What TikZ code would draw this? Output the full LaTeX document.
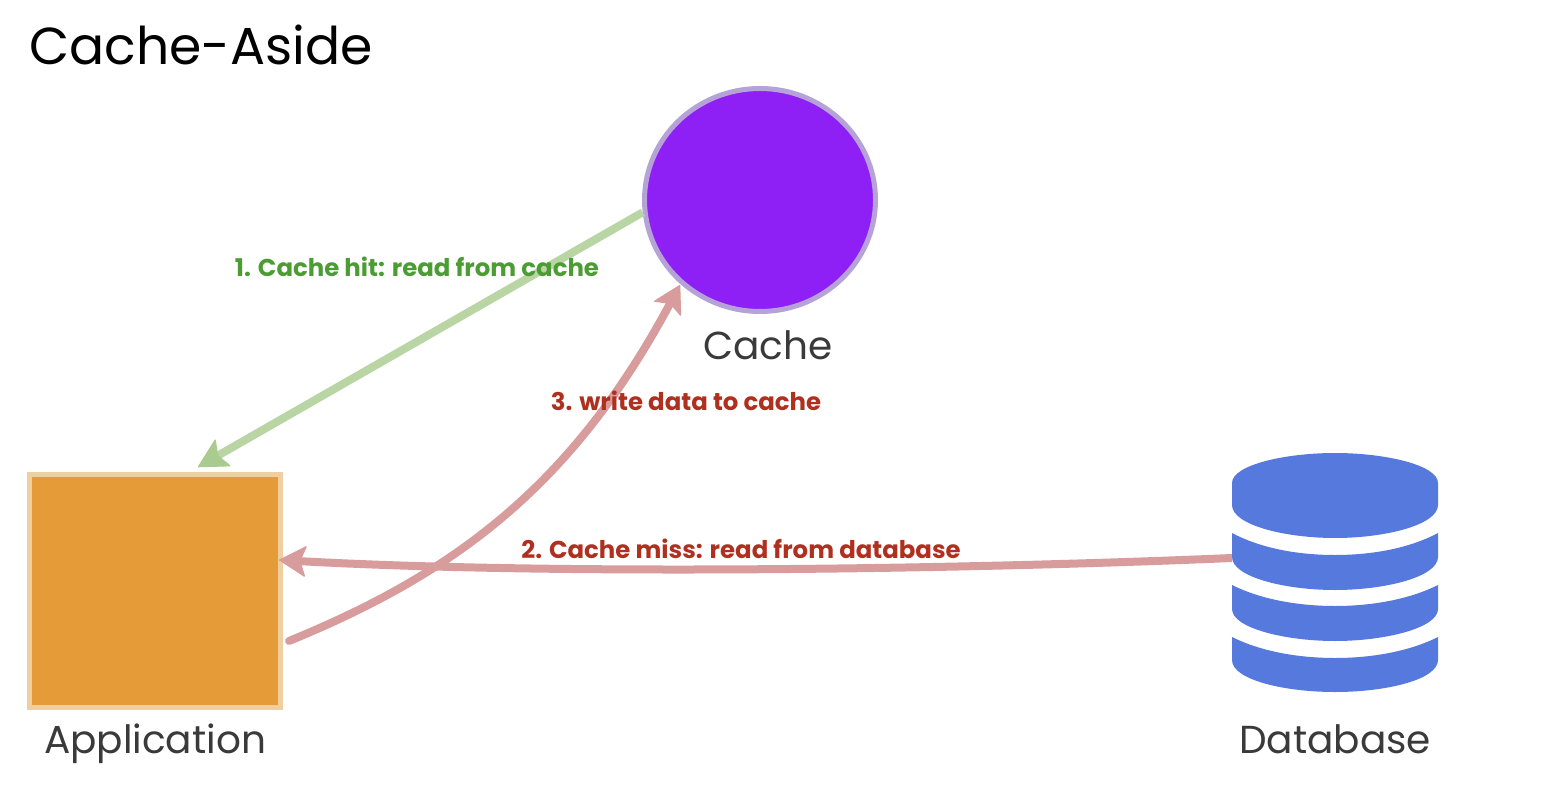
\documentclass[tikz,border=0pt]{standalone}
\usepackage{fontspec}
\setmainfont{Poppins}
\usetikzlibrary{arrows.meta,shapes.geometric}
\definecolor{appfill}{HTML}{E59C38}
\definecolor{appline}{HTML}{EFCF9F}
\definecolor{cachefill}{HTML}{8E20F5}
\definecolor{cacheline}{HTML}{B5A3D8}
\definecolor{dbfill}{HTML}{5579DC}
\definecolor{greenline}{HTML}{B9D5A4}
\definecolor{greenhead}{HTML}{A9CB90}
\definecolor{redline}{HTML}{D89C9C}
\definecolor{greentext}{HTML}{4C9C34}
\definecolor{redtext}{HTML}{B03020}
\definecolor{labeltext}{HTML}{3A3A3A}
\tikzset{
  greenarrow/.style={draw=greenline,line width=4pt,-{Stealth[round,length=15pt,width=16pt,inset=3pt,color=greenhead,fill=greenhead,line width=0.6pt]}},
  redarrow/.style={draw=redline,line width=4pt,line cap=round,-{Stealth[round,length=14pt,width=16pt,inset=3pt,color=redline,fill=redline,line width=0.6pt]}},
  namelabel/.style={text=labeltext,font=\fontsize{19.5}{24}\selectfont,inner sep=0pt,anchor=base},
  edgelabel/.style={font=\fontsize{12.2}{14}\selectfont\bfseries,inner sep=0pt,anchor=base},
  dbband/.style={fill=dbfill,draw=none}
}
\begin{document}
\begin{tikzpicture}[x=0.5pt,y=-0.5pt]
\useasboundingbox (0,0) rectangle (1561,807);
\fill[white] (0,0) rectangle (1561,807);
\node[inner sep=0pt,anchor=base,font=\fontsize{26}{32}\selectfont,text=black] (title) at (201,65) {Cache-Aside};
% shapes
\node[draw=appline,fill=appfill,line width=2.5pt,rectangle,inner sep=0pt,minimum width=125.5pt,minimum height=116.5pt] (app) at (155,591) {};
\node[draw=cacheline,fill=cachefill,line width=2.5pt,ellipse,inner sep=0pt,minimum width=115.5pt,minimum height=111.5pt] (cache) at (760,200) {};
% database
\fill[dbband] (1232,483) .. controls (1232,465) and (1285,453) .. (1335,453) .. controls (1385,453) and (1438,465) .. (1438,483) -- (1438,505) .. controls (1438,525) and (1385,538) .. (1335,538) .. controls (1285,538) and (1232,525) .. (1232,505) -- cycle;
\fill[dbband] (1232,533) .. controls (1262,549) and (1300,555) .. (1335,555) .. controls (1370,555) and (1408,549) .. (1438,533) -- (1438,557) .. controls (1438,577) and (1385,590) .. (1335,590) .. controls (1285,590) and (1232,577) .. (1232,557) -- cycle;
\fill[dbband] (1232,585) .. controls (1262,600) and (1300,606) .. (1335,606) .. controls (1370,606) and (1408,600) .. (1438,585) -- (1438,609) .. controls (1438,628) and (1385,641) .. (1335,641) .. controls (1285,641) and (1232,628) .. (1232,609) -- cycle;
\fill[dbband] (1232,637) .. controls (1262,652) and (1300,658) .. (1335,658) .. controls (1370,658) and (1408,652) .. (1438,637) -- (1438,660) .. controls (1438,680) and (1385,692) .. (1335,692) .. controls (1285,692) and (1232,680) .. (1232,660) -- cycle;
\coordinate (dbport) at (1232,558);
\coordinate (appTop) at (198,467);
\coordinate (appRight) at (279,560);
\coordinate (appOut) at (289,641);
\coordinate (cacheIn) at (680,285);
% connectors
\draw[greenarrow] (cache.186) -- (appTop);
\draw[redarrow,line cap=butt] (dbport) .. controls (950,570) and (550,575) .. (appRight);
\draw[redarrow] (appOut) .. controls (450,575) and (570,490) .. (cacheIn);
% labels
\node[namelabel] (cachelabel) at (768,359) {Cache};
\node[namelabel] (applabel) at (155,753) {Application};
\node[namelabel] (dblabel) at (1335,753) {Database};
\node[edgelabel,text=greentext] (l1) at (417,277) {1. Cache hit: read from cache};
\node[edgelabel,text=redtext] (l2) at (741,558) {2. Cache miss: read from database};
\node[edgelabel,text=redtext] (l3) at (686,410) {3. write data to cache};
\end{tikzpicture}
\end{document}
